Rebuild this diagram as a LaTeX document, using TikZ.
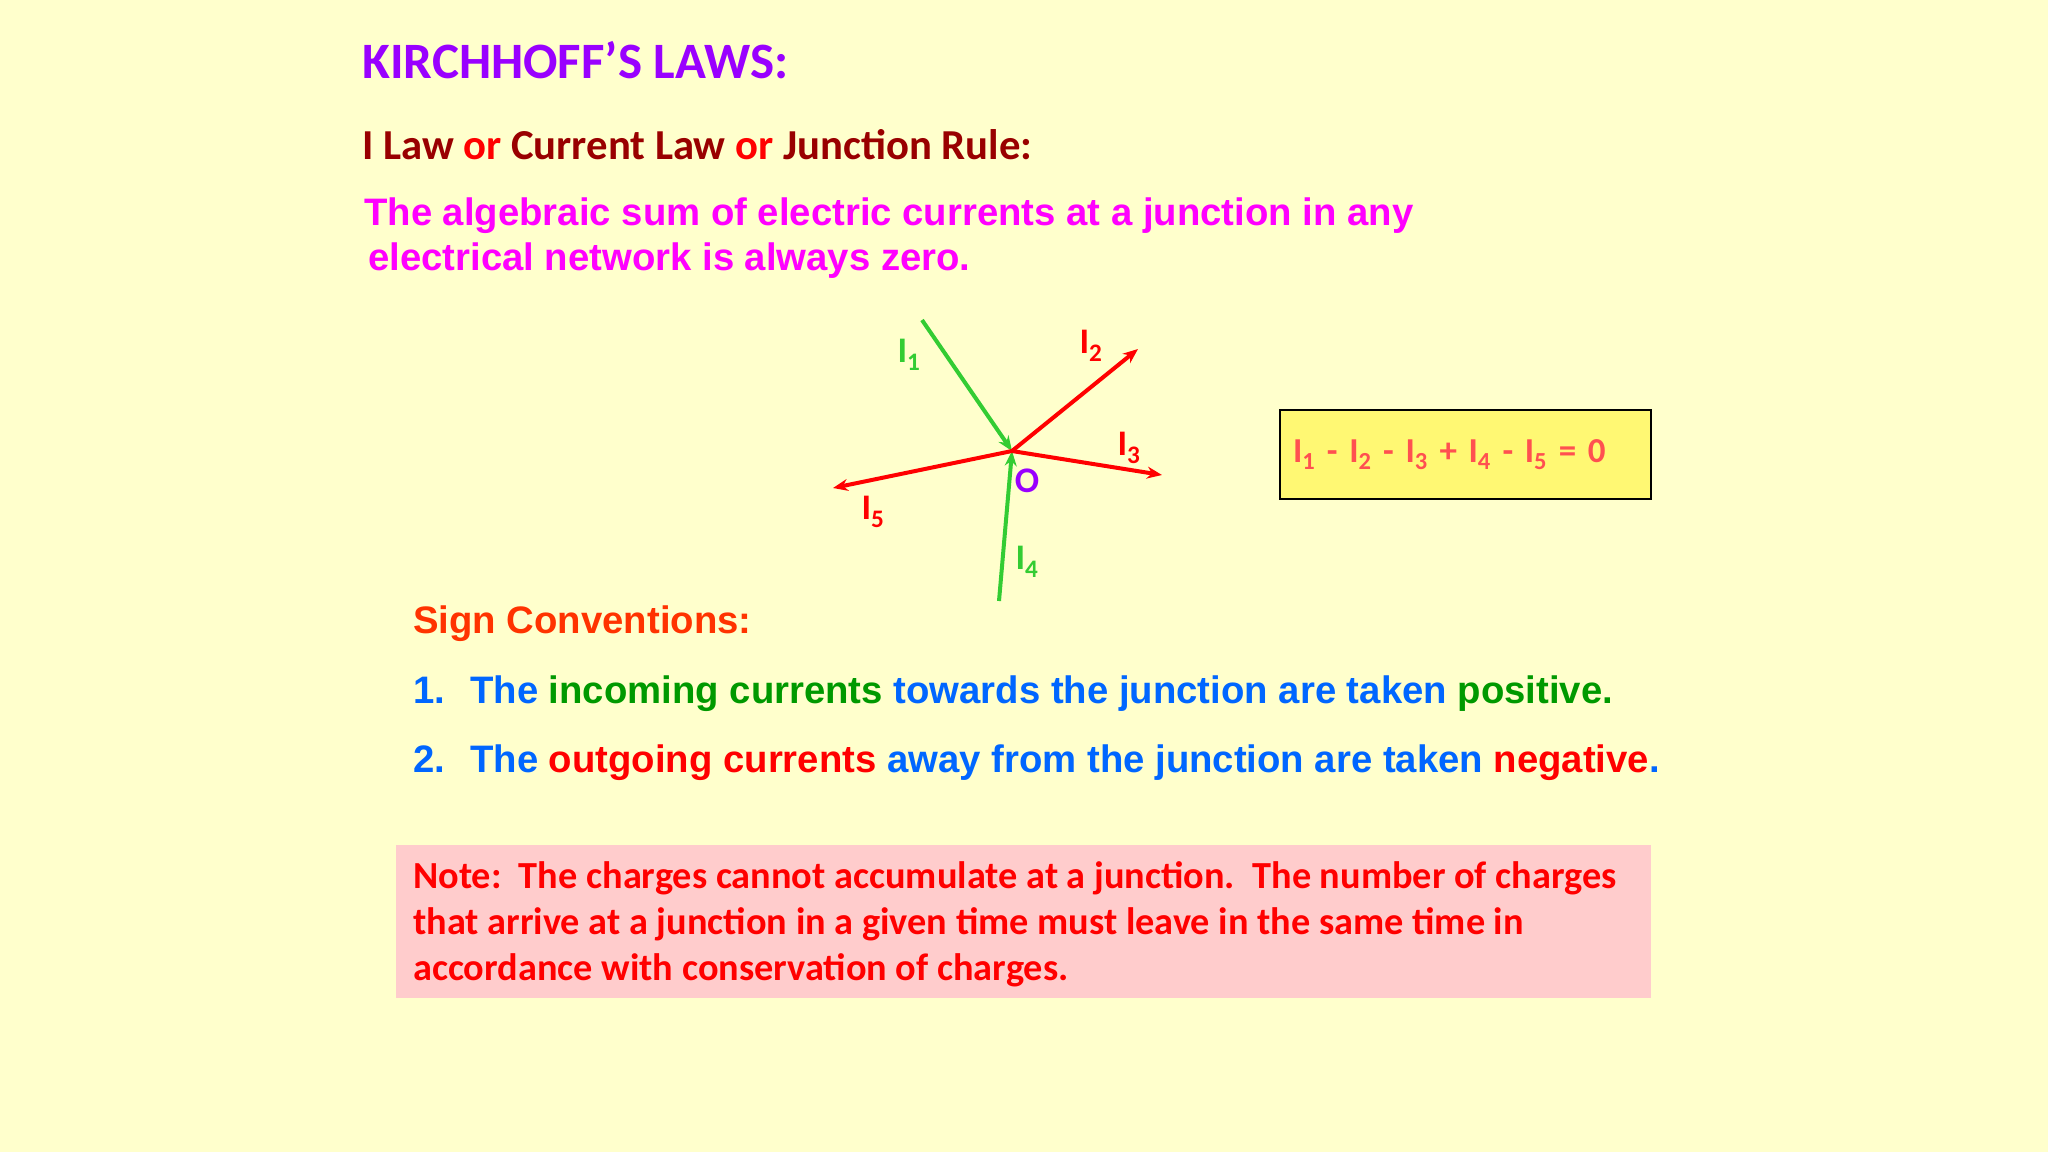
\documentclass[tikz,border=0pt]{standalone}
\usepackage{fontspec}
\usetikzlibrary{arrows.meta}
\setmainfont{Liberation Sans}
\newfontfamily\calfont{Carlito}
\definecolor{bg}{HTML}{FFFFCC}
\definecolor{ttl}{HTML}{9900FF}
\definecolor{dred}{HTML}{990000}
\definecolor{mag}{HTML}{FF00FF}
\definecolor{orng}{HTML}{FF3300}
\definecolor{blu}{HTML}{0066FF}
\definecolor{grn}{HTML}{009900}
\definecolor{lgrn}{HTML}{33CC33}
\definecolor{eqc}{HTML}{FF5050}
\begin{document}
\begin{tikzpicture}[x=1pt,y=-1pt,
  txt/.style={anchor=base west,inner sep=0pt},
  cur/.style={line width=4pt,-{Stealth[length=15pt,width=12pt]}},
  lbl/.style={font=\calfont\fontsize{36}{36}\selectfont\bfseries},
  body/.style={txt,font=\fontsize{38.3}{38.3}\selectfont\bfseries},
  notet/.style={txt,text=red,font=\calfont\fontsize{38.3}{38.3}\selectfont\bfseries}]
\fill[bg] (0,0) rectangle (2048,1152);
\useasboundingbox (0,0) rectangle (2048,1152);
\node[txt,text=ttl,font=\calfont\fontsize{51}{51}\selectfont\bfseries] (t) at (362,78) {KIRCHHOFF’S LAWS:};
\node[txt,text=dred,font=\calfont\fontsize{42.7}{42.7}\selectfont\bfseries] (l) at (362,159) {I Law \textcolor{red}{or} Current Law \textcolor{red}{or} Junction Rule:};
\node[body,text=mag] (d1) at (364,225) {The algebraic sum of electric currents at a junction in any};
\node[body,text=mag] (d2) at (368,270) {electrical network is always zero.};
% diagram
\coordinate (O) at (1012,451);
\coordinate (a1) at (922,320);
\coordinate (a2) at (1138,349);
\coordinate (a3) at (1162,475);
\coordinate (a4) at (999,601);
\coordinate (a5) at (833,488);
\draw[cur,lgrn] (a1) -- (O);
\draw[cur,lgrn] (a4) -- (O);
\draw[cur,red] (O) -- (a2);
\draw[cur,red] (O) -- (a3);
\draw[cur,red] (O) -- (a5);
\node[lbl,text=lgrn] (i1) at (909,355) {I\textsubscript{1}};
\node[lbl,text=red] (i2) at (1091,346) {I\textsubscript{2}};
\node[lbl,text=red] (i3) at (1129,448) {I\textsubscript{3}};
\node[lbl,text=lgrn] (i4) at (1027,562) {I\textsubscript{4}};
\node[lbl,text=red] (i5) at (873,512) {I\textsubscript{5}};
\node[lbl,text=ttl] (o) at (1027,481) {O};
\node[draw=black,line width=1.5pt,fill=yellow!55,minimum width=371pt,minimum height=89pt,
  text=eqc,font=\calfont\fontsize{35}{35}\selectfont\bfseries,text width=345pt,align=left] (eq) at (1465.5,454.5)
  {\raisebox{-4pt}{I\textsubscript{1} - I\textsubscript{2} - I\textsubscript{3} + I\textsubscript{4} - I\textsubscript{5} = 0}};
% sign conventions
\node[body,text=orng] (s) at (413,633) {Sign Conventions:};
\node[body,text=blu] (n1) at (413,703) {1.};
\node[body,text=blu] (s1) at (470,703) {The \textcolor{grn}{incoming currents} towards the junction are taken \textcolor{grn}{positive.}};
\node[body,text=blu] (n2) at (413,772) {2.};
\node[body,text=blu] (s2) at (470,772) {The \textcolor{red}{outgoing currents} away from the junction are taken \textcolor{red}{negative}.};
% note
\fill[red!20] (396,845) rectangle (1651,998);
\node[notet] (nt1) at (413,888) {Note:\ \ The charges cannot accumulate at a junction.\ \ The number of charges};
\node[notet] (nt2) at (413,934) {that arrive at a junction in a given time must leave in the same time in};
\node[notet] (nt3) at (413,980) {accordance with conservation of charges.};
\end{tikzpicture}
\end{document}
